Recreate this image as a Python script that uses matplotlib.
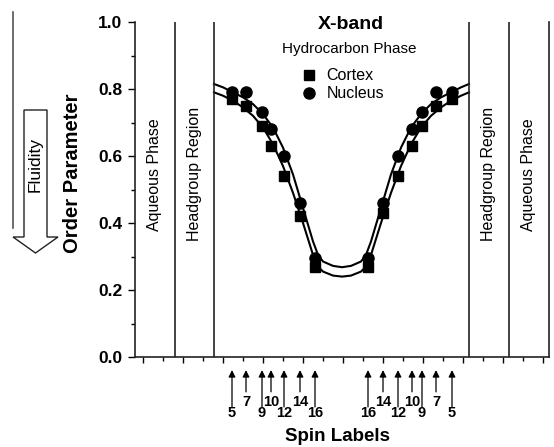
import matplotlib
matplotlib.use("Agg")
import matplotlib.pyplot as plt
from matplotlib.patches import Polygon
from matplotlib.lines import Line2D
from matplotlib.ticker import MultipleLocator, FormatStrFormatter
from matplotlib.transforms import blended_transform_factory

plt.rcParams['font.family'] = ['Liberation Sans', 'DejaVu Sans']

# spin label positions along the membrane axis (left leaflet, then right leaflet)
spin_x = [4.45, 5.15, 5.95, 6.4, 7.05, 7.85, 8.6,
          11.25, 12.0, 12.75, 13.45, 13.95, 14.65, 15.45]
spin_labels = ['5', '7', '9', '10', '12', '14', '16',
               '16', '14', '12', '10', '9', '7', '5']
long_arrow = [True, False, True, False, True, False, True,
              True, False, True, False, True, False, True]

cortex = [0.77, 0.75, 0.69, 0.63, 0.54, 0.42, 0.27,
          0.27, 0.43, 0.54, 0.63, 0.69, 0.75, 0.77]
nucleus = [0.79, 0.79, 0.73, 0.68, 0.60, 0.46, 0.295,
           0.295, 0.46, 0.60, 0.68, 0.73, 0.79, 0.79]

# fitted curves
fit_x = [3.55, 4.0, 4.5, 5.0, 5.5, 6.0, 6.5, 7.0, 7.5, 8.0, 8.5, 8.75, 9.0, 9.5, 9.95,
         10.4, 10.9, 11.15, 11.4, 11.9, 12.4, 12.9, 13.4, 13.9, 14.4, 14.9, 15.4, 15.9, 16.3]
fit_nucleus = [0.815, 0.805, 0.79, 0.775, 0.755, 0.725, 0.685, 0.625, 0.545, 0.445, 0.345, 0.305,
               0.285, 0.272, 0.268, 0.272, 0.285, 0.305, 0.345, 0.445, 0.545, 0.625, 0.685,
               0.725, 0.755, 0.775, 0.79, 0.805, 0.815]
fit_cortex = [0.79, 0.78, 0.765, 0.745, 0.72, 0.685, 0.635, 0.57, 0.49, 0.40, 0.305, 0.27,
              0.255, 0.243, 0.24, 0.243, 0.255, 0.27, 0.305, 0.40, 0.49, 0.57, 0.635,
              0.685, 0.72, 0.745, 0.765, 0.78, 0.79]

boundaries = [1.6, 3.55, 16.3, 18.3]
regions = [(0.6, 'Aqueous Phase'), (2.6, 'Headgroup Region'),
           (17.3, 'Headgroup Region'), (19.3, 'Aqueous Phase')]

W, H = 554, 447


def px(x, y):
    """pixel position (from top-left) to figure fraction"""
    return x / W, 1 - y / H


fig = plt.figure(figsize=(W / 100, H / 100), dpi=100)
ax = fig.add_axes([135 / W, 90 / H, 414 / W, 335 / H])

ax.plot(fit_x, fit_nucleus, color='black', lw=1.5)
ax.plot(fit_x, fit_cortex, color='black', lw=1.5)
ax.plot(spin_x, cortex, 's', color='black', ms=7.5, label='Cortex')
ax.plot(spin_x, nucleus, 'o', color='black', ms=8, label='Nucleus')

for b in boundaries:
    ax.axvline(b, color='#222222', lw=1.2)

for xr, name in regions:
    ax.text(xr, 0.545, name, rotation=90, ha='center', va='center', fontsize=11.5)

ax.set_xlim(-0.4, 20.3)
ax.set_ylim(0, 1.0)
ax.spines['top'].set_visible(False)
for s in ['left', 'bottom', 'right']:
    ax.spines[s].set_linewidth(1.2)
    ax.spines[s].set_color('#222222')

ax.yaxis.set_major_locator(MultipleLocator(0.2))
ax.yaxis.set_minor_locator(MultipleLocator(0.1))
ax.yaxis.set_major_formatter(FormatStrFormatter('%.1f'))
ax.xaxis.set_major_locator(MultipleLocator(2))
ax.xaxis.set_minor_locator(MultipleLocator(1))
ax.tick_params(axis='y', which='major', length=5, width=1, pad=4, labelsize=12.5)
ax.tick_params(axis='y', which='minor', length=3, width=1)
ax.tick_params(axis='x', which='major', length=4.5, width=1, labelbottom=False)
ax.tick_params(axis='x', which='minor', length=3, width=1)
for lab in ax.get_yticklabels():
    lab.set_fontweight('bold')

ax.set_ylabel('Order Parameter', fontsize=14.5, fontweight='bold')
ax.yaxis.set_label_coords(-0.128, 0.548)
ax.set_xlabel('Spin Labels', fontsize=13.5, fontweight='bold')
ax.xaxis.set_label_coords(0.49, -0.212)

ax.text(10.4, 0.994, 'X-band', ha='center', va='center', fontsize=14, fontweight='bold')
ax.text(10.3, 0.919, 'Hydrocarbon Phase', ha='center', va='center', fontsize=11)
ax.legend(loc='upper left', bbox_to_anchor=(0.401, 0.862), frameon=False, fontsize=11.5,
          borderpad=0, borderaxespad=0, handlelength=1.0, handletextpad=0.6,
          labelspacing=0.2)

# spin label arrows under the axis
trans = blended_transform_factory(ax.transData, ax.transAxes)
for xs, lab, lng in zip(spin_x, spin_labels, long_arrow):
    tail = -0.149 if lng else -0.104
    ax.annotate('', xy=(xs, -0.039), xycoords=trans, xytext=(xs, tail), textcoords=trans,
                arrowprops=dict(arrowstyle='-|>', lw=0.9, color='black', mutation_scale=10,
                                shrinkA=0, shrinkB=0),
                annotation_clip=False)
    ax.text(xs, -0.167 if lng else -0.134, lab, transform=trans, ha='center', va='center',
            fontsize=10.5, fontweight='bold')

# fluidity arrow on the left
arrow_pts = [px(24, 110), px(47, 110), px(47, 237), px(58, 237), px(35.5, 253),
             px(13, 237), px(24, 237)]
fig.patches.append(Polygon(arrow_pts, closed=True, facecolor='white', edgecolor='#222222',
                           lw=1, transform=fig.transFigure))
fig.text(*px(35.5, 165), 'Fluidity', rotation=90, ha='center', va='center', fontsize=12.5)
fig.lines.append(Line2D([13 / W, 13 / W], [1 - 12 / H, 1 - 228 / H], color='#555555', lw=1.2,
                        transform=fig.transFigure))

fig.savefig('out.png', dpi=100)
